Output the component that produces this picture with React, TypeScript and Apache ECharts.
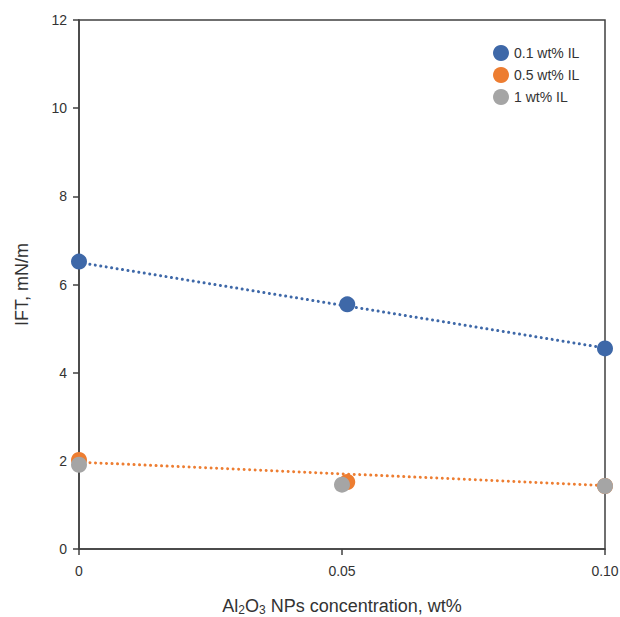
import React, { useEffect, useRef } from "react";
import * as echarts from "echarts";

const seriesNames = ["0.1 wt% IL", "0.5 wt% IL", "1 wt% IL"];
const colors = ["#3E68A8", "#ED7D31", "#A5A5A5"];
const il01 = [[0, 6.52], [0.051, 5.55], [0.1, 4.55]];
const il05 = [[0, 2.02], [0.051, 1.52], [0.1, 1.43]];
const il1 = [[0, 1.91], [0.05, 1.46], [0.1, 1.43]];
const trend01 = [[0, 6.5], [0.1, 4.56]];
const trend05 = [[0, 1.97], [0.1, 1.44]];
const yTicks = { min: 0, max: 12, interval: 2 };
const xTicks = { min: 0, max: 0.1, interval: 0.05 };

export default function App() {
  const ref = useRef<HTMLDivElement>(null);
  useEffect(() => {
    if (!ref.current) return;
    const chart = echarts.init(ref.current, null, { renderer: "svg" });
    const font = "Liberation Sans";
    const axisColor = "#404040";
    const textColor = "#333333";
    const dotted = (color: string) => ({
      color,
      width: 3,
      type: [0.01, 5.5] as any,
      cap: "round" as any,
    });
    chart.setOption({
      animation: false,
      backgroundColor: "#ffffff",
      textStyle: { fontFamily: font },
      grid: {
        left: 79,
        right: 15,
        top: 20,
        bottom: 68,
        containLabel: false,
        outerBoundsMode: "none",
        show: true,
        borderColor: axisColor,
        borderWidth: 1.5,
      },
      legend: {
        data: seriesNames,
        orient: "vertical",
        left: 488,
        top: 40,
        itemWidth: 16,
        itemHeight: 16,
        itemGap: 6,
        icon: "circle",
        itemStyle: { opacity: 1 },
        textStyle: { fontFamily: font, fontSize: 14, color: textColor },
      },
      xAxis: {
        type: "value",
        min: xTicks.min,
        max: xTicks.max,
        interval: xTicks.interval,
        splitLine: { show: false },
        axisLine: { show: true, onZero: false, lineStyle: { color: axisColor, width: 1.5 } },
        axisTick: { show: true, inside: false, length: 6, lineStyle: { color: axisColor, width: 1.5 } },
        axisLabel: {
          margin: 15,
          fontSize: 14,
          color: textColor,
          fontFamily: font,
          formatter: (v: number) => (v === 0 ? "0" : v.toFixed(2)),
        },
        name: "{a|Al}{s|2}{a|O}{s|3}{a| NPs concentration, wt%}",
        nameLocation: "middle",
        nameGap: 46,
        nameTextStyle: {
          rich: {
            a: { fontSize: 18, fontFamily: font, color: textColor, lineHeight: 22 },
            s: { fontSize: 12, fontFamily: font, color: textColor, lineHeight: 22, padding: [8, 0, 0, 0] },
          },
        },
      },
      yAxis: {
        type: "value",
        min: yTicks.min,
        max: yTicks.max,
        interval: yTicks.interval,
        splitLine: { show: false },
        axisLine: { show: true, lineStyle: { color: axisColor, width: 1.5 } },
        axisTick: { show: true, inside: false, length: 6, lineStyle: { color: axisColor, width: 1.5 } },
        axisLabel: { margin: 12, fontSize: 14, color: textColor, fontFamily: font },
        name: "IFT, mN/m",
        nameLocation: "middle",
        nameGap: 48,
        nameTextStyle: { fontSize: 18, fontFamily: font, color: textColor },
      },
      series: [
        {
          type: "line",
          data: trend01,
          showSymbol: false,
          symbol: "none",
          lineStyle: dotted(colors[0]),
          silent: true,
          z: 1,
        },
        {
          type: "line",
          data: trend05,
          showSymbol: false,
          symbol: "none",
          lineStyle: dotted(colors[1]),
          silent: true,
          z: 1,
        },
        {
          name: seriesNames[0],
          type: "scatter",
          data: il01,
          symbolSize: 16,
          itemStyle: { color: colors[0], opacity: 1 },
          z: 3,
        },
        {
          name: seriesNames[1],
          type: "scatter",
          data: il05,
          symbolSize: 16,
          itemStyle: { color: colors[1], opacity: 1 },
          z: 3,
        },
        {
          name: seriesNames[2],
          type: "scatter",
          data: il1,
          symbolSize: 16,
          itemStyle: { color: colors[2], opacity: 1 },
          z: 4,
        },
      ],
    });
    return () => chart.dispose();
  }, []);
  return (
    <div
      ref={ref}
      style={{ position: "absolute", left: 0, top: 0, width: 620, height: 617 }}
    />
  );
}
